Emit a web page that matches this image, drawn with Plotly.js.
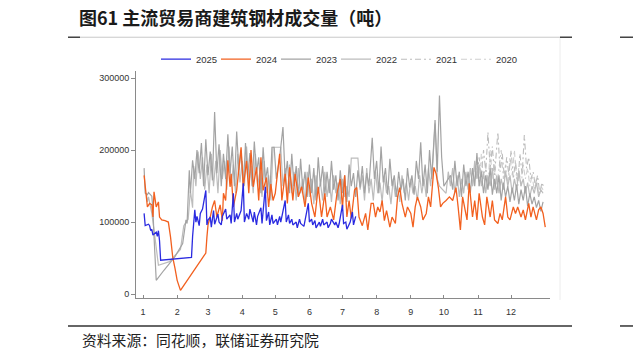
<!DOCTYPE html>
<html>
<head>
<meta charset="utf-8">
<script src="https://cdn.plot.ly/plotly-3.0.1.min.js"></script>
<style>html,body{margin:0;padding:0;background:#fff;}#chart{width:633px;height:358px;}</style>
</head>
<body>
<div id="chart"></div>
<script>
// Day-of-year (x) and volume in tonnes (y)
const monthTickDays = [1,32,60,91,121,152,182,213,244,274,305,335];
const monthTickText = ["1","2","3","4","5","6","7","8","9","10","11","12"];
const yTicks = [0,100000,200000,300000];

const s2025 = [[2,112000],[3,95000],[6,97000],[7,95000],[8,88000],[9,90000],[10,82000],[13,86000],[14,80000],[15,88000],[16,74000],[17,47000],[45,51000],[46,80000],[48,117000],[49,100000],[50,108000],[52,95000],[53,112000],[55,118000],[58,144000],[59,96000],[60,103000],[62,107000],[63,93000],[65,116000],[66,97000],[69,111000],[70,100000],[72,96000],[73,108000],[76,118000],[77,104000],[80,110000],[81,98000],[83,140000],[84,100000],[86,112000],[87,104000],[90,116000],[92,154000],[93,100000],[95,112000],[97,104000],[98,118000],[101,100000],[102,114000],[104,96000],[105,108000],[108,120000],[109,98000],[112,149000],[113,102000],[115,114000],[116,96000],[118,110000],[119,98000],[122,104000],[123,96000],[125,108000],[126,100000],[130,130000],[131,100000],[133,110000],[134,98000],[136,104000],[137,96000],[140,100000],[141,92000],[143,104000],[144,98000],[147,94000],[148,102000],[151,126000],[152,100000],[154,104000],[155,96000],[157,102000],[158,92000],[161,100000],[162,94000],[164,104000],[165,96000],[168,100000],[169,92000],[171,98000],[172,104000],[175,96000],[176,100000],[178,92000],[179,98000],[182,124000],[183,98000],[185,100000],[186,90000],[189,100000],[191,114000],[192,96000],[194,108000]];

const s2024 = [[2,165000],[4,135000],[5,121000],[7,126000],[9,124000],[10,107000],[11,142000],[13,121000],[14,126000],[15,128000],[16,107000],[18,103000],[21,102000],[24,100000],[26,79000],[28,51000],[30,36000],[32,19000],[35,5000],[58,57000],[59,79000],[60,96000],[62,107000],[64,121000],[66,130000],[68,107000],[71,124000],[73,102000],[74,140000],[76,130000],[78,186000],[80,149000],[81,167000],[83,121000],[86,144000],[88,170000],[90,204000],[92,149000],[95,185000],[97,140000],[99,200000],[101,149000],[104,176000],[106,130000],[108,190000],[110,144000],[113,162000],[115,121000],[117,153000],[119,130000],[121,140000],[125,195000],[127,130000],[130,167000],[132,126000],[134,176000],[137,130000],[139,167000],[142,135000],[145,149000],[148,121000],[151,162000],[154,126000],[157,107000],[160,149000],[163,107000],[166,140000],[168,107000],[171,121000],[174,103000],[177,140000],[180,160000],[182,120000],[184,165000],[186,107000],[188,130000],[190,105000],[193,145000],[195,148000],[197,107000],[200,95000],[203,112000],[205,89000],[208,126000],[210,126000],[212,107000],[214,121000],[216,114000],[218,130000],[220,102000],[222,116000],[225,93000],[227,107000],[230,98000],[232,135000],[234,148000],[236,126000],[239,107000],[241,121000],[244,112000],[246,93000],[248,121000],[250,135000],[253,121000],[255,103000],[258,112000],[260,135000],[262,121000],[265,176000],[267,167000],[269,148000],[271,121000],[273,126000],[276,130000],[279,135000],[282,130000],[285,148000],[287,120000],[289,89000],[291,135000],[293,121000],[295,103000],[297,154000],[300,107000],[302,130000],[304,103000],[306,140000],[309,107000],[311,96000],[313,135000],[316,107000],[318,130000],[320,103000],[323,98000],[325,112000],[327,103000],[330,135000],[332,107000],[334,103000],[337,121000],[339,112000],[341,121000],[344,107000],[346,117000],[348,103000],[351,126000],[353,107000],[355,121000],[358,103000],[360,117000],[362,121000],[364,112000],[366,93000]];

const s2023 = [[2,175000],[3,140000],[5,138000],[6,141000],[9,136000],[10,118000],[11,80000],[13,19000],[20,33000],[30,52000],[37,70000],[40,103000],[41,98000],[43,172000],[44,140000],[46,186000],[48,160000],[50,200000],[52,168000],[54,210000],[56,150000],[58,215000],[60,165000],[62,198000],[64,158000],[66,253000],[68,168000],[70,208000],[72,150000],[74,195000],[76,160000],[78,222000],[80,168000],[82,205000],[84,150000],[86,226000],[88,172000],[90,200000],[92,146000],[94,210000],[96,163000],[98,196000],[100,150000],[102,212000],[104,168000],[106,190000],[108,140000],[110,204000],[112,158000],[114,176000],[116,136000],[118,204000],[120,204000],[122,160000],[125,190000],[128,232000],[130,160000],[132,185000],[134,140000],[136,195000],[138,150000],[140,178000],[142,135000],[144,188000],[146,145000],[148,170000],[150,135000],[152,180000],[154,140000],[156,175000],[158,130000],[160,190000],[162,150000],[164,178000],[166,138000],[168,170000],[170,140000],[172,185000],[174,145000],[176,165000],[178,130000],[180,172000],[182,140000],[184,165000],[186,128000],[188,180000],[190,150000],[192,168000],[194,135000],[196,172000],[198,148000],[200,178000],[202,140000],[204,168000],[206,150000],[209,217000],[211,160000],[213,185000],[215,140000],[217,205000],[219,155000],[221,175000],[223,138000],[225,188000],[227,150000],[229,165000],[231,135000],[233,170000],[235,145000],[237,160000],[239,130000],[241,175000],[243,148000],[245,165000],[247,138000],[249,185000],[251,160000],[253,211000],[255,150000],[257,180000],[259,140000],[261,200000],[263,160000],[266,242000],[268,170000],[270,276000],[272,190000],[274,150000],[280,165000],[282,145000],[284,185000],[286,150000],[288,170000],[290,135000],[292,180000],[294,150000],[296,170000],[298,140000],[300,175000],[302,150000],[304,196000],[306,150000],[308,170000],[310,140000],[312,165000],[314,145000],[316,175000],[318,138000],[320,160000],[322,140000],[324,165000],[326,130000],[328,155000],[330,135000],[332,150000],[334,128000],[336,148000],[338,130000],[340,152000],[342,125000],[344,145000],[346,130000],[348,150000],[350,122000],[352,140000],[354,125000],[356,135000],[358,120000],[360,130000],[362,115000],[364,128000]];

const s2022 = [[4,140000],[5,128000],[6,135000],[9,112000],[11,89000],[13,60000],[15,40000],[25,45000],[35,62000],[38,95000],[40,100000],[42,104000],[44,144000],[46,120000],[47,178000],[49,150000],[51,198000],[53,160000],[55,190000],[57,145000],[59,180000],[61,140000],[63,195000],[65,150000],[67,185000],[69,140000],[71,200000],[73,160000],[75,185000],[77,145000],[79,205000],[81,150000],[83,180000],[85,140000],[87,195000],[89,155000],[91,185000],[93,150000],[95,205000],[97,150000],[99,178000],[101,140000],[103,195000],[105,150000],[107,170000],[109,135000],[111,185000],[113,140000],[115,165000],[117,130000],[119,204000],[126,204000],[128,150000],[130,175000],[132,135000],[134,180000],[136,140000],[138,170000],[140,130000],[142,175000],[144,140000],[146,160000],[148,125000],[150,170000],[152,135000],[154,160000],[156,125000],[158,165000],[160,140000],[162,155000],[164,130000],[166,170000],[168,135000],[170,160000],[172,128000],[174,165000],[176,140000],[178,155000],[180,125000],[182,160000],[184,135000],[186,150000],[188,135000],[190,189000],[196,189000],[198,145000],[200,165000],[202,130000],[204,175000],[206,140000],[208,160000],[210,130000],[212,170000],[214,140000],[216,155000],[218,128000],[220,165000],[222,140000],[224,150000],[226,125000],[228,160000],[230,135000],[232,150000],[234,128000],[236,165000],[238,140000],[240,155000],[242,130000],[244,160000],[246,140000],[248,150000],[250,130000],[252,165000],[254,140000],[256,160000],[258,135000],[260,175000],[262,150000],[264,185000],[266,237000],[268,160000],[270,150000],[276,140000],[278,170000],[280,150000],[282,175000],[284,140000],[286,165000],[288,135000],[290,160000],[292,140000],[294,170000],[296,145000],[298,175000],[300,150000],[302,185000],[304,160000],[306,180000],[308,150000],[310,170000],[312,140000],[314,165000],[316,150000],[318,175000],[320,145000],[322,165000],[324,140000],[326,160000],[328,145000],[330,170000],[332,150000],[334,165000],[336,140000],[338,160000],[340,145000],[342,170000],[344,150000],[346,160000],[348,140000],[350,155000],[352,135000],[354,150000],[356,140000],[358,155000],[360,135000],[362,145000],[364,140000]];

const s2021 = [[300,150000],[302,180000],[304,160000],[306,190000],[308,165000],[310,200000],[312,170000],[314,225000],[316,175000],[318,205000],[320,165000],[323,225000],[325,170000],[327,195000],[329,160000],[331,190000],[333,165000],[335,200000],[337,160000],[339,185000],[341,150000],[343,195000],[345,165000],[347,221000],[349,175000],[351,190000],[353,160000],[355,170000],[357,150000],[359,165000],[361,140000],[363,155000],[365,147000]];

const s2020 = [[302,160000],[304,185000],[306,150000],[308,195000],[310,160000],[312,180000],[314,150000],[316,200000],[318,160000],[320,185000],[322,150000],[324,175000],[326,200000],[328,160000],[330,180000],[332,150000],[334,190000],[336,165000],[338,200000],[340,160000],[342,175000],[344,150000],[346,180000],[348,160000],[350,175000],[352,150000],[354,165000],[356,145000],[358,160000],[360,140000],[362,150000],[364,145000]];

function tr(name, s, color, dash, w) {
  return {
    type: 'scatter', mode: 'lines', name: name,
    x: s.map(p => p[0]), y: s.map(p => p[1]),
    line: {color: color, width: w, dash: dash},
    hoverinfo: 'skip'
  };
}
// empty legend spacers so the last legend label is not clipped
function spacer() {
  return {type: 'scatter', mode: 'lines', name: ' ', x: [null], y: [null],
          line: {color: 'rgba(0,0,0,0)', width: 0}, hoverinfo: 'skip', showlegend: true};
}

const data = [
  spacer(),
  tr('2020', s2020, '#cfcfcf', '6px,3px,2px,3px', 1.1),
  tr('2021', s2021, '#bdbdbd', '6px,3px,2px,3px', 1.1),
  tr('2022', s2022, '#bcbcbc', 'solid', 1.2),
  tr('2023', s2023, '#a3a3a3', 'solid', 1.2),
  tr('2024', s2024, '#f2601f', 'solid', 1.3),
  tr('2025', s2025, '#2a2ae0', 'solid', 1.3),
  spacer()
];

// pixel -> paper helpers (plot area: x 136..550, y 70.8..298)
const L = 136, W = 414, B = 298, H = 227.2;
const px = v => (v - L) / W;
const py = v => (B - v) / H;
function seg(x0, x1, y0, y1, color, width) {
  return {type: 'line', xref: 'paper', yref: 'paper', x0: px(x0), x1: px(x1), y0: py(y0), y1: py(y1), line: {color: color, width: width}};
}

const layout = {
  width: 633, height: 358,
  margin: {l: 136, r: 83, t: 70.8, b: 60},
  paper_bgcolor: '#ffffff', plot_bgcolor: '#ffffff',
  font: {family: 'Liberation Sans, Arial, sans-serif', size: 9, color: '#333'},
  title: {
    text: '<b>图61 主流贸易商建筑钢材成交量（吨）</b>',
    font: {family: 'Noto Sans CJK SC', size: 18, color: '#1a1a1a'},
    x: 79 / 633, xanchor: 'left', xref: 'container',
    y: 1 - 18.5 / 358, yanchor: 'middle', yref: 'container'
  },
  showlegend: true,
  legend: {
    orientation: 'h', x: px(96), xanchor: 'left', y: py(59), yanchor: 'middle',
    traceorder: 'reversed', entrywidth: 15, entrywidthmode: 'pixels',
    font: {family: 'Liberation Sans, Arial, sans-serif', size: 9.5, color: '#333'},
    bgcolor: 'rgba(0,0,0,0)'
  },
  xaxis: {
    range: [-5.35, 370.3], tickmode: 'array', tickvals: monthTickDays, ticktext: monthTickText,
    showgrid: false, zeroline: false, showline: true, linecolor: '#8a8a8a', linewidth: 1,
    ticks: 'inside', ticklen: 3, tickcolor: '#8a8a8a', ticklabelstandoff: 5,
    tickfont: {size: 9, color: '#333'}
  },
  yaxis: {
    range: [-5556, 310000], tickmode: 'array', tickvals: yTicks, tickformat: 'd',
    showgrid: false, zeroline: false, showline: true, linecolor: '#8a8a8a', linewidth: 1,
    ticks: 'outside', ticklen: 4, tickcolor: '#8a8a8a', tickfont: {size: 9, color: '#333'}
  },
  shapes: [
    seg(80, 560, 37, 37, '#c8c8c8', 1),
    seg(68, 80, 37, 37, '#444', 1.5),
    seg(560, 572, 37, 37, '#444', 1.5),
    seg(620, 633, 37, 37, '#444', 1.5),
    seg(560, 560, 38, 300, '#ececec', 1),
    seg(68, 572, 326, 326, '#333', 1.5),
    seg(620, 633, 326, 326, '#333', 1.5)
  ],
  annotations: [
    {text: '资料来源：同花顺，联储证券研究院', xref: 'paper', yref: 'paper', x: px(80), y: py(340),
     xanchor: 'left', yanchor: 'middle', showarrow: false,
     font: {family: 'Noto Sans CJK SC', size: 14.8, color: '#222'}}
  ]
};

Plotly.newPlot('chart', data, layout, {displayModeBar: false, staticPlot: true});
</script>
</body>
</html>
